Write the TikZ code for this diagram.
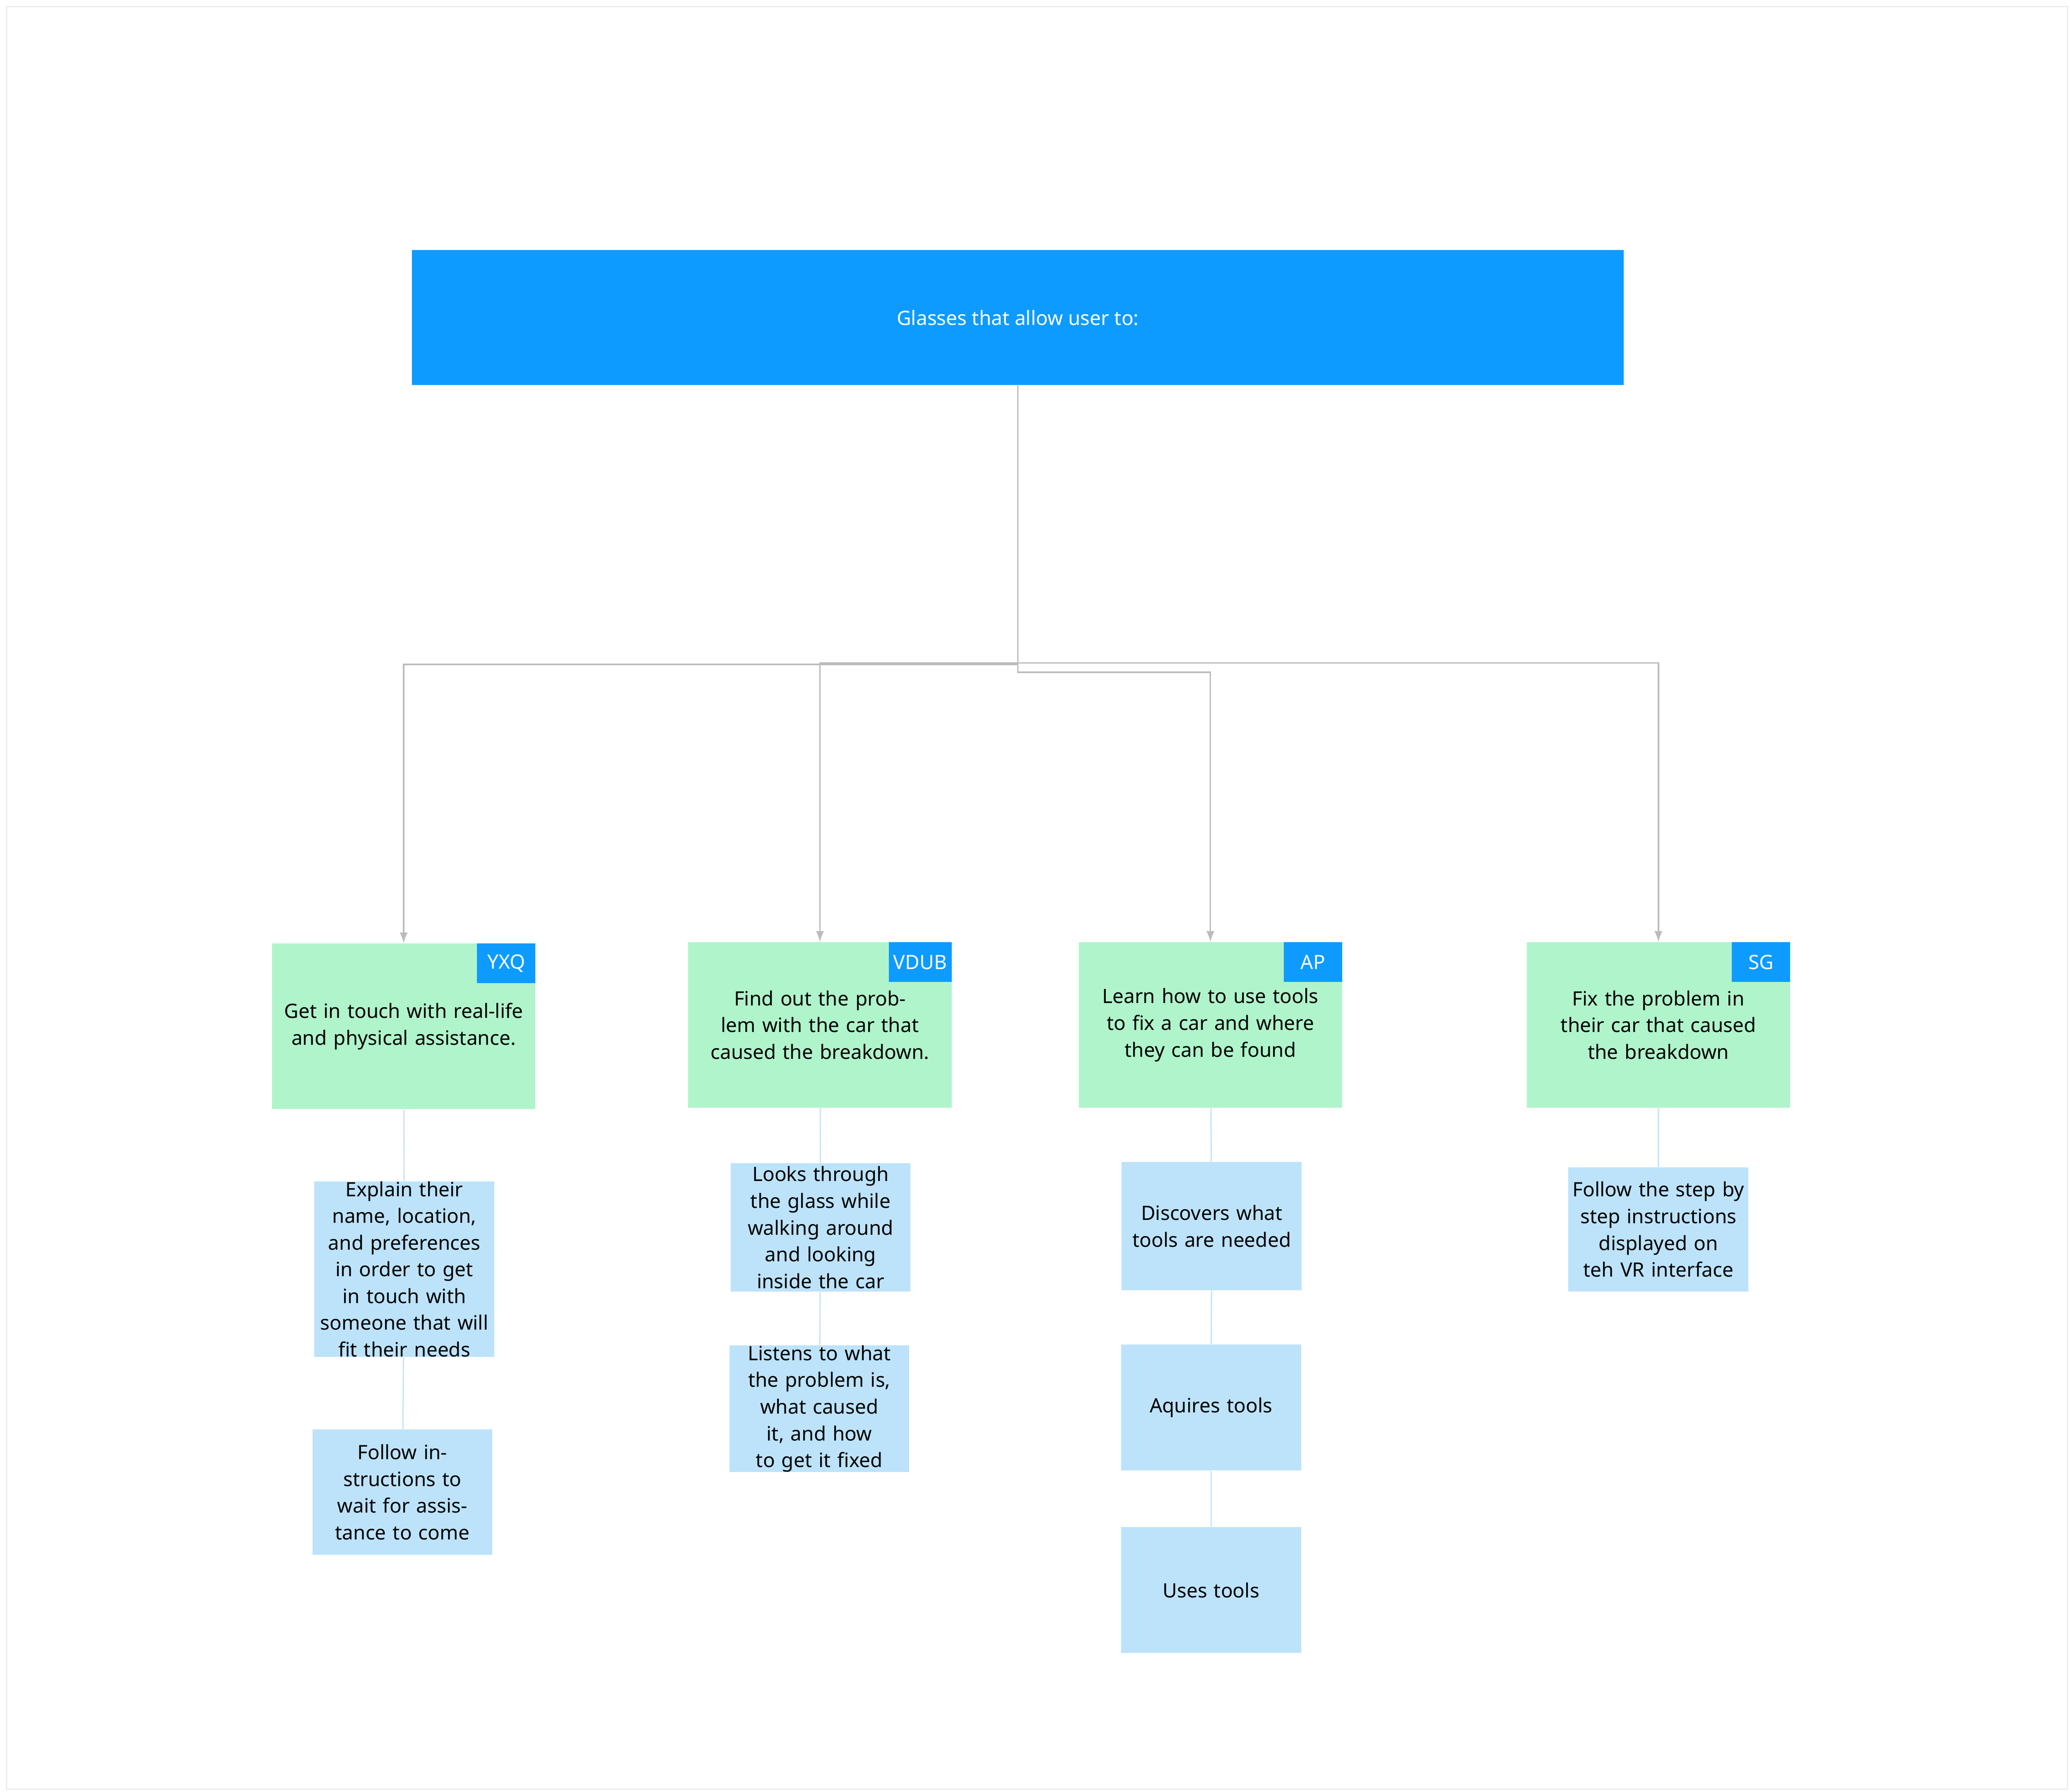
\documentclass[tikz,border=0pt]{standalone}
\usepackage{fontspec}
\setmainfont{Noto Sans}
\usetikzlibrary{positioning}
\definecolor{topblue}{HTML}{0D9BFF}
\definecolor{goal}{HTML}{B0F4CB}
\definecolor{step}{HTML}{BDE3FB}
\definecolor{link}{HTML}{BBBBBB}
\definecolor{sublink}{HTML}{C9E6F7}
\tikzset{
  goalbox/.style={fill=goal,minimum width=3.98cm,minimum height=2.5cm,text width=3.7cm,align=center,inner sep=0pt},
  stepbox/.style={fill=step,minimum width=2.72cm,minimum height=1.9cm,text width=2.6cm,align=center,inner sep=0pt},
  tagbox/.style={fill=topblue,text=white,minimum height=0.6cm,minimum width=0.88cm,inner sep=2pt,anchor=north east},
  mainlink/.style={draw=link,line width=0.6pt,->,>=latex},
  steplink/.style={draw=sublink,line width=0.6pt},
}
\begin{document}
\begin{tikzpicture}[x=0.02cm,y=-0.02cm,font=\fontsize{8.5}{11.5}\selectfont]
\useasboundingbox (0,0) rectangle (1564,1354);
\draw[black!10] (5,5) rectangle (1562,1352);
%%
  \node (node_top) at (769,240) [fill=topblue,text=white,minimum width=18.32cm,minimum height=2.04cm] {Glasses that allow user to:};

  \node (node_yxq) at (305,775.5) [goalbox] {Get in touch with real-life and physical assistance.};
  \node (node_vdub) at (619.5,774.5) [goalbox] {Find out the problem with the car that caused the breakdown.};
  \node (node_ap) at (914.5,774.5) [goalbox] {Learn how to use tools to fix a car and where they can be found};
  \node (node_sg) at (1253,774.5) [goalbox] {Fix the problem in their car that caused the breakdown};

  \node (tag_yxq) at (node_yxq.north east) [tagbox] {YXQ};
  \node (tag_vdub) at (node_vdub.north east) [tagbox] {VDUB};
  \node (tag_ap) at (node_ap.north east) [tagbox] {AP};
  \node (tag_sg) at (node_sg.north east) [tagbox] {SG};

  \node (yxq_1) at (305.5,959) [stepbox,minimum height=2.52cm] {Explain their name, location, and preferences in order to get in touch with someone that will fit their needs};
  \node (yxq_2) at (304,1127.5) [stepbox] {Follow instructions to wait for assistance to come};
  \node (vdub_1) at (620,927.5) [stepbox,minimum height=1.94cm] {Looks through the glass while walking around and looking inside the car};
  \node (vdub_2) at (619,1064.5) [stepbox] {Listens to what the problem is, what caused it, and how to get it fixed};
  \node (ap_1) at (915.5,926.5) [stepbox,minimum height=1.94cm] {Discovers what tools are needed};
  \node (ap_2) at (915,1063.5) [stepbox] {Aquires tools};
  \node (ap_3) at (915,1201.5) [stepbox] {Uses tools};
  \node (sg_1) at (1253,929) [stepbox,minimum height=1.88cm] {Follow the step by step instructions displayed on teh VR interface};

  \coordinate (hub) at (769,501);
  \draw [mainlink,-] (node_top) -- (hub);
  \draw [mainlink] (hub) -- (769,502) -| (node_yxq.north);
  \draw [mainlink] (hub) -| (node_vdub.north);
  \draw [mainlink] (hub) -- (769,508) -| (node_ap.north);
  \draw [mainlink] (hub) -| (node_sg.north);

  \draw [steplink] (node_yxq) -- (yxq_1);
  \draw [steplink] (yxq_1) -- (yxq_2);
  \draw [steplink] (node_vdub) -- (vdub_1);
  \draw [steplink] (vdub_1) -- (vdub_2);
  \draw [steplink] (node_ap) -- (ap_1);
  \draw [steplink] (ap_1) -- (ap_2);
  \draw [steplink] (ap_2) -- (ap_3);
  \draw [steplink] (node_sg) -- (sg_1);
%
\end{tikzpicture}
\end{document}
